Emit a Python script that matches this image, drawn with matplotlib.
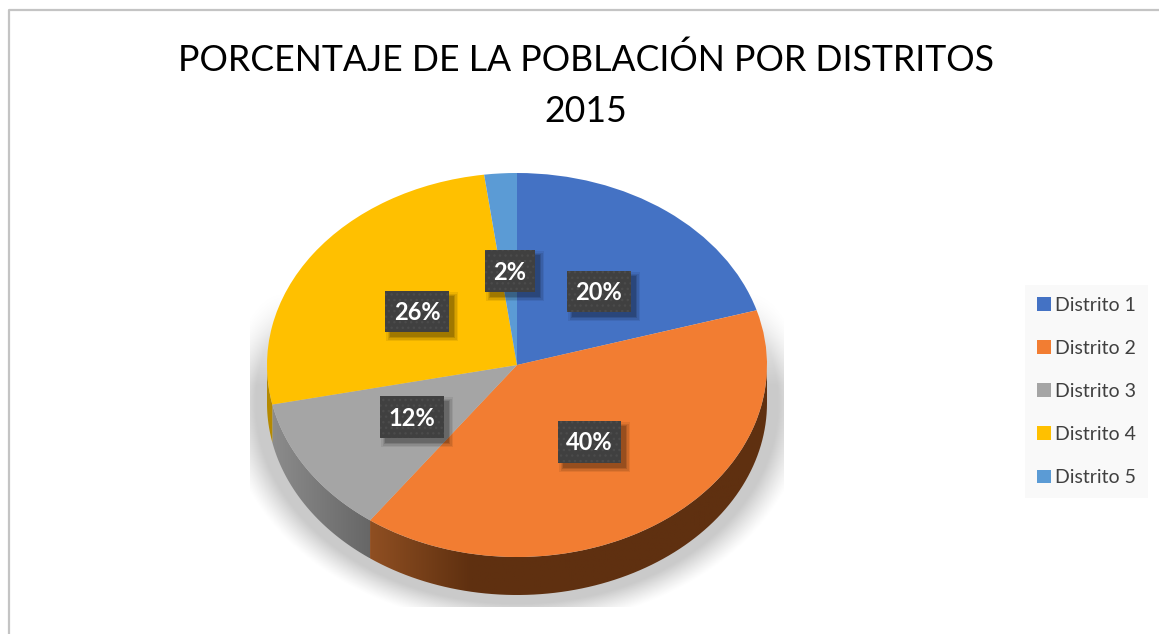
import numpy as np
from matplotlib import pyplot as plt
from matplotlib.colors import to_rgb
from matplotlib.patches import Patch, PathPatch, Rectangle
from matplotlib.path import Path

plt.rcParams['font.family'] = ['Lato', 'DejaVu Sans']

title = 'PORCENTAJE DE LA POBLACIÓN POR DISTRITOS\n2015'
distritos = ['Distrito 1', 'Distrito 2', 'Distrito 3', 'Distrito 4', 'Distrito 5']
valores = [20.4, 39.6, 11.7, 26.2, 2.1]
etiquetas = ['20%', '40%', '12%', '26%', '2%']
colores = ['#4472c4', '#f27d32', '#a5a5a5', '#ffc000', '#5b9bd5']
laterales = [('#2a4478', '#2a4478'), ('#8f4f22', '#5f3010'), ('#8c8c8c', '#666666'),
             ('#b58a00', '#b58a00'), ('#37608a', '#37608a')]

# label boxes in pixels: left, top, right, bottom
cajas = [(567, 271, 631, 312), (558, 421, 621, 463), (380, 396, 444, 438),
         (385, 291, 449, 332), (485, 250, 535, 292)]

W, H = 1159, 634
CX, CY, RX, RY = 517, 365, 250, 192
DEPTH = 38 / RY


def px(x):
    return (x - CX) / RX


def py(y):
    return (CY - y) / RY


def draw_shadow(ax):
    xs = np.linspace(px(250), px(784), 300)
    ys = np.linspace(py(290), py(607), 240)
    xx, yy = np.meshgrid(xs, ys)
    r = np.sqrt(xx ** 2 + (yy + DEPTH) ** 2)
    alpha = np.clip((1.17 - r) / 0.12, 0, 1) ** 1.2 * 0.21
    alpha *= np.clip((yy - py(290)) / (py(385) - py(290)), 0, 1)
    img = np.zeros(xx.shape + (4,))
    img[..., 3] = alpha
    ax.imshow(img, extent=(xs[0], xs[-1], ys[-1], ys[0]), origin='upper',
              aspect='auto', zorder=1, interpolation='bilinear')


def draw_wall(ax, start, end, left, right):
    # start and end in degrees, only the front half of the rim is visible
    t = np.radians(np.linspace(start, end, 80))
    x = np.cos(t)
    y = np.sin(t)
    verts = np.r_[np.c_[x, y], np.c_[x[::-1], y[::-1] - DEPTH], [[x[0], y[0]]]]
    codes = [Path.MOVETO] + [Path.LINETO] * (len(verts) - 2) + [Path.CLOSEPOLY]
    patch = PathPatch(Path(verts, codes), fc='none', ec='none', zorder=2)
    ax.add_patch(patch)
    xs = np.linspace(x.min(), x.max(), 200)
    f = np.clip((xs - x.min()) / 0.4, 0, 1)[:, None]
    row = (1 - f) * np.array(to_rgb(left)) + f * np.array(to_rgb(right))
    im = ax.imshow(row[None, :, :], extent=(x.min(), x.max(), y.min() - DEPTH, y.max()),
                   aspect='auto', zorder=2)
    im.set_clip_path(patch)


fig = plt.figure(figsize=(W / 100, H / 100), dpi=100)
ax = fig.add_axes([0, 0, 1, 1])

draw_shadow(ax)

angulo = 90.0
for valor, (izq, der) in zip(valores, laterales):
    fin = angulo - valor * 3.6
    a = max(fin, -180.0)
    b = min(angulo, 0.0)
    if b > a:
        draw_wall(ax, a, b, izq, der)
    angulo = fin

wedges, _ = ax.pie(valores, colors=colores, startangle=90, counterclock=False,
                   radius=1, wedgeprops={'linewidth': 0, 'zorder': 3})
for w in wedges:
    w.set_zorder(3)

ax.set_aspect('auto')
ax.set_xlim(px(0), px(W))
ax.set_ylim(py(H), py(0))
ax.axis('off')

# chart frame, only top and left are in the crop
ax.plot([px(9), px(9), px(W)], [py(H), py(10), py(10)], color='#c4c4c4', lw=1.6, zorder=1)

ax.text(px(586), py(85), title, ha='center', va='center', fontsize=25.7,
        linespacing=1.66, color='black', zorder=6)

for texto, (x0, y0, x1, y1) in zip(etiquetas, cajas):
    for grow, a in [(4, 0.07), (2.5, 0.09), (1, 0.12), (0, 0.15)]:
        ax.add_patch(Rectangle((px(x0 + 5 - grow), py(y1 + 5 + grow)),
                               px(x1 + 5 + grow) - px(x0 + 5 - grow),
                               py(y0 + 5 - grow) - py(y1 + 5 + grow),
                               fc='black', ec='none', alpha=a, zorder=4))
    ax.add_patch(Rectangle((px(x0), py(y1)), px(x1) - px(x0), py(y0) - py(y1),
                           fc='#404040', ec='#4b4b4b', lw=0, hatch='...', zorder=5))
    ax.text(px((x0 + x1) / 2), py((y0 + y1) / 2 + 1), texto, color='white',
            fontsize=17, fontweight='bold', ha='center', va='center', zorder=6)

handles = [Patch(fc=c, ec='none', label=d) for c, d in zip(colores, distritos)]
leg = ax.legend(handles=handles, loc='upper left', fontsize=14,
                bbox_to_anchor=(1025 / W, 1 - 285 / H), bbox_transform=fig.transFigure,
                frameon=True, fancybox=False, facecolor='#f9f9f9', edgecolor='none',
                framealpha=1, labelcolor='#404040', handlelength=0.72, handleheight=0.72,
                handletextpad=0.2, labelspacing=1.34, borderpad=0.62, borderaxespad=0)
leg.set_zorder(6)

fig.savefig('out.png', dpi=100)
